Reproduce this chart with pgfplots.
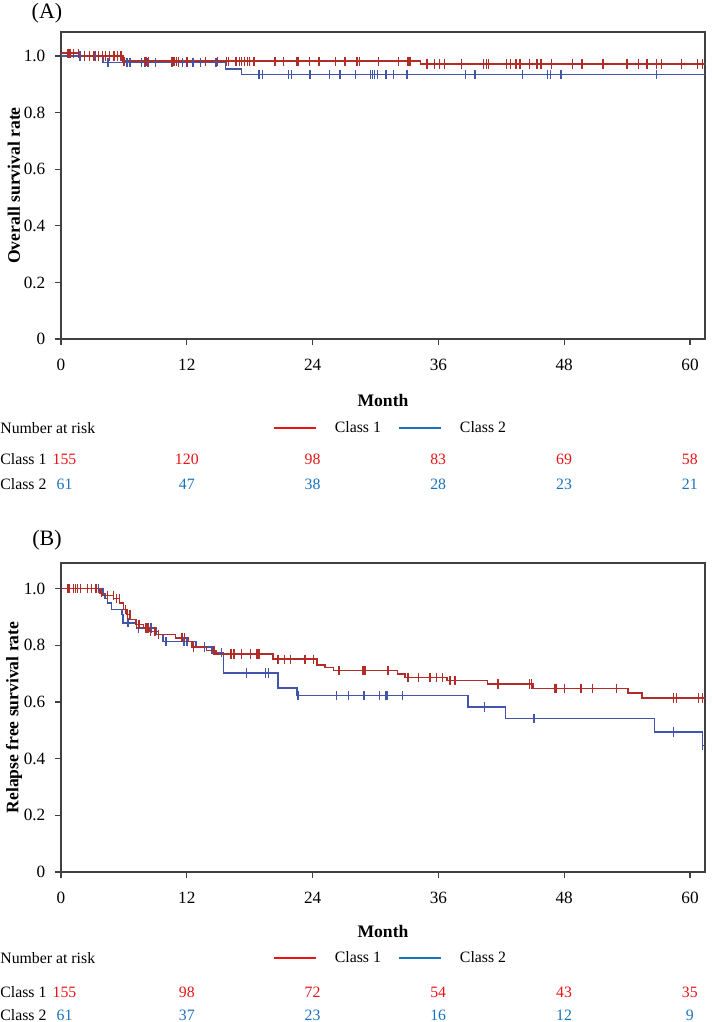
\documentclass[border=0pt]{standalone}
\usepackage{fontspec}
\setmainfont{Liberation Serif}
\usepackage{pgfplots}
\pgfplotsset{compat=1.18}
\definecolor{kmred}{RGB}{178,45,40}
\definecolor{kmblue}{RGB}{65,85,170}
\definecolor{nred}{RGB}{232,20,22}
\definecolor{nblue}{RGB}{25,115,190}
\pgfplotsset{
 kmaxis/.style={
  scale only axis, width=322bp, xmin=0, xmax=61.43, ymin=0,
  xtick={0,12,24,36,48,60}, ytick={0,0.2,0.4,0.6,0.8,1.0},
  yticklabels={0,0.2,0.4,0.6,0.8,1.0},
  tick align=outside, tick pos=left, major tick length=3bp,
  axis line style={black!75, line width=0.6bp},
  every tick/.style={black!75, line width=0.6bp},
  /pgf/number format/assume math mode=true,
  tick label style={font=\fontsize{8.6bp}{10bp}\selectfont},
  ylabel style={at={(axis description cs:-0.073,0.5)}, anchor=center, font=\fontsize{8.8bp}{10bp}\selectfont\bfseries},
  xlabel style={font=\fontsize{8.8bp}{10bp}\selectfont\bfseries},
  yticklabel style={xshift=-2bp},
  xticklabel style={yshift=-4bp},
  legend columns=2, legend cell align=left,
  legend image code/.code={\draw[##1] (0bp,0bp) -- (21bp,0bp);},
  legend style={draw=none, fill=none, inner sep=0pt, outer sep=0pt, anchor=west,
    /tikz/every odd column/.append style={column sep=9bp},
    /tikz/every even column/.append style={column sep=8.5bp},
    nodes={inner sep=0pt}},
 },
 km/.style={const plot, line width=0.75bp, mark=none, forget plot},
 cens/.style={only marks, mark=|, mark size=2.3bp, mark options={line width=0.7bp}, forget plot},
}
\begin{document}
\fontsize{7.9bp}{9.5bp}\selectfont
\begin{tikzpicture}
\path[use as bounding box] (0bp,0bp) rectangle (356bp,-511bp);
% ---------------- Panel A ----------------
\node[font=\fontsize{11bp}{13bp}\selectfont] at (23.5bp,-6.5bp) {(A)};
\begin{axis}[kmaxis, at={(30.5bp,-169.5bp)}, anchor=south west, height=153.5bp, ymax=1.085,
  xlabel={Month}, xlabel style={at={(axis description cs:0.5,-0.199)}, anchor=center},
  ylabel={Overall survival rate},
  legend style={at={(axis description cs:0.329,-0.29)}},
  legend entries={Class 1, Class 2}]
\addlegendimage{nred, line width=1bp}
\addlegendimage{nblue, line width=1bp}
\addplot[km, kmblue] coordinates {(0,1.0) (4.0,0.978) (15.7,0.955) (17.2,0.935) (61.43,0.935)};
\addplot[cens, kmblue] coordinates {(1.8,1.0) (3.3,1.0)
 (4.5,0.978) (6.3,0.978) (6.6,0.978) (7.7,0.978) (8.0,0.978) (8.3,0.978) (9.0,0.978) (10.6,0.978) (11.2,0.978) (11.6,0.978) (12.0,0.978) (12.6,0.978) (13.3,0.978) (14.8,0.978)
 (18.9,0.935) (19.2,0.935) (21.7,0.935) (22.0,0.935) (23.7,0.935) (23.8,0.935) (25.6,0.935) (26.6,0.935) (28.1,0.935) (29.5,0.935) (29.7,0.935) (29.9,0.935) (30.2,0.935) (31.0,0.935) (31.7,0.935) (33.0,0.935) (38.6,0.935) (39.5,0.935) (44.0,0.935) (46.4,0.935) (46.7,0.935) (47.7,0.935) (56.8,0.935)};
\addplot[km, kmred] coordinates {(0,1.01) (1.8,1.0) (5.9,0.982) (34.3,0.972) (61.43,0.972)};
\addplot[cens, kmred] coordinates {(0.65,1.01) (0.87,1.01) (1.17,1.01) (1.69,1.01)
 (2.25,1.0) (2.73,1.0) (3.16,1.0) (3.59,1.0) (3.94,1.0) (4.24,1.0) (4.63,1.0) (5.06,1.0) (5.41,1.0) (5.71,1.0)
 (6.02,0.982) (8.0,0.982) (8.18,0.982) (8.35,0.982) (10.6,0.982) (10.78,0.982) (11.04,0.982) (11.2,0.982) (12.0,0.982) (13.8,0.982) (14.9,0.982) (15.8,0.982) (16.0,0.982) (16.7,0.982) (17.0,0.982) (17.2,0.982) (17.5,0.982) (17.8,0.982) (18.0,0.982) (18.4,0.982) (20.4,0.982) (21.2,0.982) (22.5,0.982) (22.6,0.982) (23.7,0.982) (24.6,0.982) (26.2,0.982) (27.1,0.982) (28.2,0.982) (28.3,0.982) (28.5,0.982) (30.3,0.982) (32.2,0.982) (33.1,0.982) (33.3,0.982)
 (34.9,0.972) (35.6,0.972) (36.1,0.972) (36.6,0.972) (38.2,0.972) (40.3,0.972) (40.6,0.972) (40.8,0.972) (42.5,0.972) (42.9,0.972) (43.4,0.972) (43.8,0.972) (44.7,0.972) (45.4,0.972) (45.8,0.972) (46.8,0.972) (48.8,0.972) (49.7,0.972) (51.7,0.972) (54.0,0.972) (55.1,0.972) (55.9,0.972) (56.8,0.972) (57.3,0.972) (59.2,0.972) (60.7,0.972) (61.2,0.972)};
\end{axis}
\node[anchor=west, inner sep=0pt] at (0bp,-214bp) {Number at risk};
\node[anchor=west, inner sep=0pt] at (0bp,-229.5bp) {Class 1};
\node[anchor=west, inner sep=0pt] at (0bp,-242bp) {Class 2};
\foreach \x/\a/\b in {32.25/155/61, 93.4/120/47, 156.3/98/38, 219.1/83/28, 282.0/69/23, 344.9/58/21}{
  \node[nred, inner sep=0pt] at (\x bp,-229.5bp) {\a};
  \node[nblue, inner sep=0pt] at (\x bp,-242bp) {\b};
}
% ---------------- Panel B ----------------
\node[font=\fontsize{11bp}{13bp}\selectfont] at (23.5bp,-270bp) {(B)};
\begin{axis}[kmaxis, at={(30.5bp,-436bp)}, anchor=south west, height=154.5bp, ymax=1.09,
  xlabel={Month}, xlabel style={at={(axis description cs:0.5,-0.194)}, anchor=center},
  ylabel={Relapse free survival rate},
  legend style={at={(axis description cs:0.329,-0.278)}},
  legend entries={Class 1, Class 2}]
\addlegendimage{nred, line width=1bp}
\addlegendimage{nblue, line width=1bp}
\addplot[km, kmblue] coordinates {(0,1.0) (4.0,0.981) (4.2,0.964) (4.45,0.949) (4.8,0.926) (5.8,0.908) (5.9,0.879) (7.2,0.861) (9.1,0.837) (9.75,0.814) (12.9,0.794) (14.4,0.773) (15.5,0.702) (20.7,0.649) (22.5,0.622) (38.8,0.582) (42.4,0.542) (56.6,0.494) (61.2,0.446) (61.43,0.446)};
\addplot[cens, kmblue] coordinates {(3.6,1.0) (6.4,0.879) (7.4,0.861) (8.3,0.861) (8.6,0.861) (10.0,0.814) (11.7,0.814) (11.8,0.814) (12.0,0.814) (13.7,0.794) (15.3,0.773) (17.7,0.702) (19.5,0.702) (19.8,0.702) (22.6,0.622) (26.3,0.622) (27.4,0.622) (28.9,0.622) (30.4,0.622) (31.0,0.622) (31.1,0.622) (32.6,0.622) (40.4,0.582) (45.1,0.542) (58.4,0.494) (61.2,0.446)};
\addplot[km, kmred] coordinates {(0,1.0) (3.7,0.985) (3.9,0.976) (5.0,0.964) (5.6,0.949) (5.95,0.926) (6.3,0.908) (6.6,0.890) (7.15,0.873) (7.85,0.861) (8.5,0.849) (9.3,0.837) (10.9,0.826) (12.1,0.814) (12.5,0.794) (13.9,0.782) (14.8,0.769) (20.2,0.751) (24.4,0.731) (25.2,0.722) (26.0,0.710) (32.1,0.698) (32.8,0.687) (36.8,0.675) (40.7,0.663) (45.0,0.647) (54.1,0.631) (55.4,0.614) (61.43,0.614)};
\addplot[cens, kmred] coordinates {(0.65,1.0) (0.82,1.0) (1.17,1.0) (1.39,1.0) (1.6,1.0) (1.86,1.0) (2.5,1.0) (2.9,1.0) (3.33,1.0)
 (3.85,0.985) (4.42,0.976) (4.98,0.976) (5.28,0.964) (5.58,0.964) (6.15,0.926) (6.36,0.908) (6.58,0.908) (7.23,0.873) (7.45,0.873) (8.1,0.861) (8.31,0.861) (8.53,0.849) (8.96,0.849) (9.31,0.837) (11.56,0.826) (11.77,0.826) (12.64,0.794) (14.59,0.782)
 (16.23,0.769) (16.5,0.769) (17.2,0.769) (18.05,0.769) (18.7,0.769) (18.9,0.769) (20.7,0.751) (21.3,0.751) (21.9,0.751) (23.2,0.751) (23.3,0.751) (24.1,0.751)
 (26.5,0.710) (28.8,0.710) (29.0,0.710) (31.2,0.710) (33.1,0.687) (34.1,0.687) (35.2,0.687) (35.8,0.687) (36.4,0.687) (37.1,0.675) (37.6,0.675) (41.7,0.663) (44.7,0.663) (44.9,0.663)
 (47.1,0.647) (47.2,0.647) (48.0,0.647) (49.6,0.647) (50.7,0.647) (53.0,0.647) (58.4,0.614) (58.7,0.614) (60.8,0.614) (61.2,0.614)};
\end{axis}
\node[anchor=west, inner sep=0pt] at (0bp,-479bp) {Number at risk};
\node[anchor=west, inner sep=0pt] at (0bp,-496bp) {Class 1};
\node[anchor=west, inner sep=0pt] at (0bp,-507.5bp) {Class 2};
\foreach \x/\a/\b in {32.25/155/61, 93.4/98/37, 156.3/72/23, 219.1/54/16, 282.0/43/12, 344.9/35/9}{
  \node[nred, inner sep=0pt] at (\x bp,-496bp) {\a};
  \node[nblue, inner sep=0pt] at (\x bp,-507.5bp) {\b};
}
\end{tikzpicture}
\end{document}
